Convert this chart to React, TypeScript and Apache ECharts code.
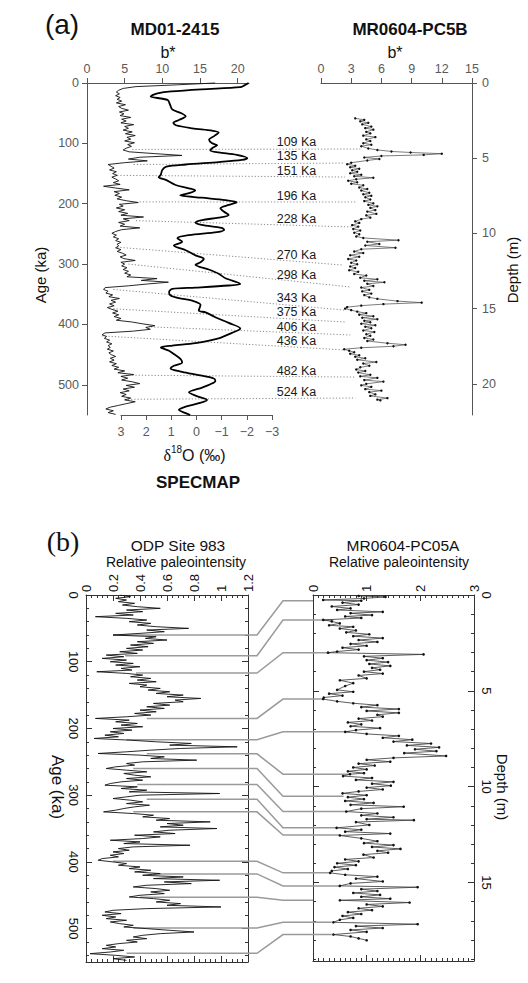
import React, { useEffect, useRef } from "react";
import * as echarts from "echarts";

const FONT = '"Liberation Sans", Arial, Helvetica, sans-serif';

// ---------- Panel (a) ----------
// SPECMAP stack: [age (ka), δ18O (‰)]
const specmap: number[][] = [
  [0, -2.07], [4, -1.9], [7, -1.74], [10.5, -0.2], [14, 1.0], [17, 1.55], [20, 1.75], [22.5, 1.82],
  [28, 1.15], [36, 1.05], [44, 0.96], [50, 0.6], [55, 0.43], [61, 0.68], [66, 0.92], [70, 0.82],
  [75, 0.17], [79, -0.62], [82, -0.88], [88, -0.7], [94, -0.5], [100, -0.62], [103, -0.82], [108, -0.62],
  [112, -0.55], [115, -0.88], [119, -1.6], [124.5, -2.02], [127.5, -1.8], [131, -0.88], [135, 0.43],
  [138.5, 1.2], [144, 1.36], [152, 1.42], [156, 1.5], [160.5, 1.22], [169, 0.83], [174.5, 0.3],
  [178, 0.05], [182.5, 0.3], [186, 0.65], [190, -0.2], [194, -1.15], [197.5, -1.6], [202, -1.28],
  [207.5, -0.95], [213, -1.08], [218.5, -1.28], [223, -0.88], [227, -0.22], [231, 0.04], [235, -0.2],
  [240, -1.0], [243, -1.1], [247, -0.82], [252, 0.3], [257, 0.76], [263, 0.57], [269, 0.9], [277, 0.43],
  [285.5, 0.04], [291, -0.29], [297, -0.16], [301, 0.04], [309, -0.49], [316, -0.88], [323.5, -1.15],
  [333, -1.74], [335.5, -1.28], [339, 0.04], [341, 0.96], [346.5, 1.09], [352, 1.03], [356.5, 0.7],
  [360.5, 0.17], [367.5, -0.16], [377, -0.09], [380, -0.36], [388, -0.75], [397.5, -1.28], [406.5, -1.74],
  [414, -1.41], [423, -0.88], [431, 0.04], [435, 0.96], [438, 1.42], [443.5, 1.09], [449, 0.9],
  [457.5, 0.63], [463, 0.57], [468.5, 0.9], [473, 1.03], [478.5, 0.57], [484, -0.09], [489.5, -0.69],
  [493.5, -0.75], [499, -0.55], [504.5, -0.22], [512.5, 0.3], [518, 0.04], [525, -0.42], [530.5, -0.09],
  [536, 0.43], [541.5, 0.7], [547, 0.43], [550, 0.25],
];

// MD01-2415 b*, one value every 3 ka from 0 ka
const mdAgeStep = 3;
const mdBstar: number[] = [
  17.0, 12.0, 6.5, 4.8, 4.2, 3.9, 4.3, 3.8, 4.4, 4.0, 4.6, 3.9, 5.1, 4.2, 4.6, 5.5, 4.3, 4.9, 4.4, 5.8,
  4.6, 5.2, 4.5, 6.2, 5.0, 5.5, 4.8, 6.0, 5.1, 6.4, 5.3, 5.8, 5.0, 6.3, 5.4, 5.9, 5.2, 4.8, 5.6, 9.0,
  12.6, 7.0, 5.5, 8.0, 5.0, 2.8, 3.2, 3.6, 3.0, 3.9, 3.4, 4.0, 3.3, 3.8, 4.2, 3.5, 4.4, 2.2, 3.8, 5.6,
  3.6, 4.3, 3.7, 4.6, 4.0, 5.2, 6.8, 4.3, 4.8, 3.9, 5.0, 4.2, 5.4, 4.5, 7.5, 4.8, 5.6, 4.2, 5.0, 4.4,
  7.0, 4.6, 3.8, 3.3, 3.9, 3.5, 4.2, 3.8, 4.5, 4.0, 4.2, 3.8, 4.5, 4.0, 4.7, 5.2, 4.4, 4.9, 6.4, 4.5,
  5.0, 4.6, 5.3, 4.8, 5.5, 5.0, 5.8, 5.3, 9.3, 7.2, 10.8, 8.0, 5.5, 2.4, 2.2, 2.8, 2.5, 3.4, 2.9, 4.3,
  3.2, 3.8, 3.0, 3.6, 2.7, 3.3, 4.1, 3.4, 4.2, 3.6, 4.5, 3.9, 6.0, 7.4, 9.0, 7.8, 8.4, 6.2, 2.4, 2.0,
  2.6, 2.3, 3.0, 2.6, 3.3, 2.8, 3.1, 2.7, 3.5, 2.9, 3.2, 3.8, 3.1, 3.6, 3.0, 3.9, 3.3, 4.2, 3.6, 5.0,
  4.1, 6.2, 4.5, 5.4, 4.6, 6.0, 7.0, 5.2, 6.3, 4.8, 5.6, 4.4, 5.2, 4.6, 5.8, 5.0, 6.4, 5.3, 4.2, 3.1,
  2.5, 3.5, 2.8, 3.8,
];

// MR0604-PC5B b*: [depth (m), b*]
const pc5b: number[][] = [
  [2.35, 3.4], [2.45, 4.3], [2.55, 3.9], [2.65, 4.7], [2.75, 4.1], [2.9, 5.0], [3.0, 4.4], [3.1, 5.2],
  [3.25, 4.5], [3.35, 4.9], [3.5, 4.2], [3.6, 5.4], [3.75, 4.5], [3.85, 4.9], [4.0, 4.2], [4.1, 5.0],
  [4.2, 4.0], [4.35, 4.7], [4.45, 5.6], [4.55, 7.0], [4.62, 8.9], [4.7, 12.0], [4.78, 10.2], [4.85, 6.0],
  [4.95, 4.3], [5.05, 5.8], [5.15, 4.6], [5.3, 3.0], [5.4, 2.6], [5.5, 3.4], [5.6, 2.9], [5.7, 3.8],
  [5.8, 3.1], [5.9, 3.6], [6.0, 2.9], [6.1, 4.0], [6.2, 3.3], [6.3, 5.2], [6.4, 3.5], [6.5, 2.7],
  [6.6, 3.6], [6.7, 3.0], [6.8, 4.2], [6.95, 3.8], [7.05, 4.6], [7.15, 4.0], [7.3, 4.8], [7.4, 4.2],
  [7.5, 5.0], [7.6, 4.4], [7.75, 4.9], [7.85, 4.3], [8.0, 5.2], [8.1, 4.7], [8.2, 5.6], [8.3, 4.9],
  [8.45, 5.4], [8.55, 4.6], [8.7, 5.5], [8.8, 4.5], [8.95, 4.9], [9.05, 4.0], [9.2, 3.4], [9.3, 3.8],
  [9.45, 3.1], [9.55, 3.7], [9.7, 3.2], [9.8, 3.9], [9.95, 3.3], [10.05, 3.8], [10.2, 3.5], [10.3, 4.2],
  [10.45, 7.7], [10.55, 4.6], [10.7, 5.8], [10.8, 4.4], [10.95, 7.4], [11.05, 4.0], [11.2, 3.3],
  [11.3, 4.2], [11.45, 2.9], [11.55, 3.8], [11.7, 2.7], [11.8, 3.5], [11.95, 3.0], [12.05, 3.6],
  [12.2, 2.9], [12.3, 3.4], [12.45, 2.8], [12.55, 3.7], [12.7, 3.3], [12.8, 4.5], [12.95, 3.9],
  [13.05, 5.6], [13.15, 4.3], [13.25, 6.3], [13.35, 4.6], [13.5, 5.2], [13.6, 4.0], [13.75, 4.8],
  [13.85, 4.1], [14.0, 5.0], [14.1, 4.3], [14.25, 4.8], [14.35, 5.6], [14.5, 7.6], [14.6, 10.0],
  [14.7, 6.2], [14.8, 4.0], [14.9, 2.6], [15.0, 2.4], [15.1, 3.0], [15.2, 3.6], [15.3, 4.5], [15.4, 3.8],
  [15.5, 5.2], [15.6, 4.1], [15.7, 5.6], [15.8, 4.3], [15.9, 4.9], [16.0, 4.0], [16.1, 5.4], [16.2, 4.4],
  [16.3, 5.0], [16.45, 4.2], [16.55, 5.3], [16.7, 4.5], [16.8, 4.9], [16.95, 4.3], [17.05, 5.2],
  [17.15, 4.6], [17.3, 6.6], [17.4, 8.4], [17.5, 7.2], [17.6, 4.0], [17.7, 2.3], [17.8, 2.8], [17.9, 3.3],
  [18.0, 2.9], [18.1, 3.8], [18.2, 3.4], [18.3, 4.4], [18.4, 3.6], [18.55, 5.5], [18.65, 4.2], [18.8, 4.8],
  [18.9, 3.9], [19.05, 3.5], [19.15, 4.4], [19.25, 3.7], [19.4, 4.9], [19.5, 3.9], [19.6, 5.6],
  [19.75, 4.3], [19.85, 6.2], [20.0, 4.5], [20.1, 4.0], [20.2, 5.0], [20.35, 4.4], [20.45, 6.0],
  [20.55, 4.8], [20.7, 5.4], [20.8, 4.9], [20.95, 6.6], [21.05, 5.6], [21.1, 5.9],
];

// tie points of panel (a)
const tieLabelsA = [109, 135, 151, 196, 228, 270, 298, 343, 375, 406, 436, 482, 524];
const tieLeftAgeA = [110, 135, 153, 197, 228, 272, 300, 342, 374, 404, 419, 484, 524];
const tieLeftBA = [6.0, 6.2, 4.0, 7.0, 6.5, 4.0, 5.5, 3.5, 3.5, 8.5, 2.0, 6.0, 5.0];
const tieDepthA = [4.39, 5.32, 6.25, 7.91, 9.57, 12.1, 13.56, 15.1, 15.89, 16.75, 17.75, 19.55, 20.94];
const tieRightBA = [3.9, 2.4, 2.4, 3.4, 3.1, 2.1, 2.9, 2.4, 2.4, 2.9, 2.4, 3.4, 3.4];

const ageTicksA = [0, 100, 200, 300, 400, 500];
const mdTicks = [0, 5, 10, 15, 20];
const depthTicksA = [0, 5, 10, 15, 20];

// ---------- Panel (b) ----------
// ODP Site 983 relative paleointensity, one value every 2.5 ka from 0 ka
const odpAgeStep = 2.5;
const odpPI: number[] = [
  0.25, 0.33, 0.22, 0.30, 0.24, 0.36, 0.27, 0.38, 0.55, 0.30, 0.42, 0.22, 0.35, 0.07, 0.30, 0.45, 0.32, 0.48, 0.38, 0.52,
  0.76, 0.45, 0.58, 0.40, 0.20, 0.52, 0.44, 0.60, 0.38, 0.50, 0.33, 0.46, 0.30, 0.42, 0.25, 0.38, 0.15, 0.28, 0.12, 0.30,
  0.18, 0.35, 0.22, 0.40, 0.26, 0.34, 0.08, 0.30, 0.42, 0.33, 0.48, 0.38, 0.52, 0.32, 0.45, 0.40, 0.55, 0.46, 0.62, 0.52,
  0.72, 0.60, 0.85, 0.66, 0.72, 0.50, 0.62, 0.45, 0.58, 0.40, 0.52, 0.36, 0.48, 0.30, 0.07, 0.32, 0.22, 0.38, 0.26, 0.42,
  0.20, 0.34, 0.18, 0.28, 0.14, 0.24, 0.06, 0.32, 0.52, 0.78, 0.62, 1.12, 0.70, 0.48, 0.30, 0.09, 0.40, 0.58, 0.48, 0.82,
  0.42, 0.30, 0.36, 0.22, 0.15, 0.30, 0.45, 0.28, 0.36, 0.48, 0.30, 0.42, 0.26, 0.18, 0.14, 0.38, 0.26, 0.45, 0.32, 0.99,
  0.40, 0.30, 0.20, 0.33, 0.42, 0.30, 0.47, 0.36, 0.28, 0.22, 0.13, 0.35, 0.50, 0.42, 0.62, 0.52, 0.92, 0.60, 0.72, 0.55,
  0.97, 0.62, 0.50, 0.66, 0.36, 0.55, 0.42, 0.18, 0.40, 0.28, 0.77, 0.35, 0.24, 0.32, 0.20, 0.28, 0.18, 0.24, 0.12, 0.09,
  0.20, 0.30, 0.24, 0.40, 0.32, 0.48, 0.36, 0.55, 0.42, 0.72, 0.50, 0.99, 0.58, 0.78, 0.45, 0.35, 0.52, 0.62, 0.48, 0.58,
  0.40, 0.32, 0.50, 0.62, 0.52, 0.70, 0.60, 1.00, 0.45, 0.20, 0.14, 0.26, 0.12, 0.22, 0.15, 0.30, 0.18, 0.25, 0.35, 0.28,
  0.45, 0.62, 0.80, 0.55, 0.42, 0.35, 0.45, 0.30, 0.38, 0.24, 0.15, 0.22, 0.12, 0.28, 0.18, 0.03, 0.22, 0.36, 0.20, 0.30,
];

// MR0604-PC05A relative paleointensity: [depth (m), RPI]
const pc05a: number[][] = [
  [0.05, 0.85], [0.1, 1.35], [0.18, 0.95], [0.26, 0.19], [0.3, 0.9], [0.4, 0.55], [0.5, 0.85], [0.6, 0.35],
  [0.7, 0.7], [0.78, 0.45], [0.88, 1.3], [0.95, 0.7], [1.05, 1.1], [1.12, 0.6], [1.2, 0.9], [1.3, 0.19],
  [1.38, 0.35], [1.48, 0.5], [1.58, 0.3], [1.66, 0.75], [1.75, 0.5], [1.85, 0.8], [1.95, 0.62], [2.05, 1.05],
  [2.15, 0.75], [2.25, 1.3], [2.35, 0.85], [2.45, 1.2], [2.55, 0.7], [2.65, 1.0], [2.75, 0.55], [2.85, 0.85],
  [2.95, 0.45], [3.01, 0.28], [3.1, 2.06], [3.2, 0.95], [3.3, 1.3], [3.4, 1.0], [3.5, 1.4], [3.6, 1.05],
  [3.7, 1.44], [3.8, 1.1], [3.9, 1.25], [4.0, 0.95], [4.1, 1.3], [4.2, 0.85], [4.35, 1.0], [4.45, 0.5],
  [4.6, 0.75], [4.75, 0.6], [4.95, 0.45], [5.05, 0.75], [5.15, 0.3], [5.25, 0.55], [5.35, 0.2], [5.43, 0.19],
  [5.55, 0.45], [5.65, 0.75], [5.75, 1.2], [5.85, 0.9], [5.95, 1.6], [6.05, 1.0], [6.15, 1.6], [6.25, 1.2],
  [6.35, 1.3], [6.45, 0.85], [6.55, 1.1], [6.65, 0.65], [6.75, 0.9], [6.85, 0.7], [6.95, 1.25], [7.05, 0.8],
  [7.14, 0.6], [7.25, 1.0], [7.35, 1.6], [7.45, 1.3], [7.55, 1.85], [7.65, 1.5], [7.75, 2.2], [7.85, 1.75],
  [7.95, 2.35], [8.05, 1.9], [8.15, 2.3], [8.25, 1.7], [8.4, 2.48], [8.5, 1.5], [8.6, 1.0], [8.7, 1.44],
  [8.8, 0.85], [8.9, 1.15], [9.0, 0.75], [9.1, 1.0], [9.2, 0.65], [9.3, 0.95], [9.35, 0.69], [9.45, 0.56],
  [9.55, 1.1], [9.65, 0.8], [9.75, 1.5], [9.85, 1.1], [9.95, 1.45], [10.05, 1.0], [10.15, 1.3], [10.25, 0.85],
  [10.35, 0.55], [10.45, 1.0], [10.55, 0.65], [10.65, 0.95], [10.75, 0.6], [10.85, 1.13], [10.95, 0.7],
  [11.05, 1.69], [11.15, 0.9], [11.3, 0.62], [11.4, 1.2], [11.5, 0.9], [11.6, 1.5], [11.7, 1.0], [11.75, 1.88],
  [11.85, 0.8], [12.0, 1.05], [12.15, 0.44], [12.25, 0.9], [12.35, 0.6], [12.45, 1.44], [12.55, 0.5],
  [12.7, 0.9], [12.85, 1.2], [12.95, 0.95], [13.05, 1.5], [13.15, 1.1], [13.25, 1.63], [13.35, 1.2],
  [13.45, 1.4], [13.55, 0.94], [13.7, 1.13], [13.8, 0.6], [13.9, 0.85], [14.0, 0.45], [14.1, 0.8], [14.2, 0.4],
  [14.3, 0.65], [14.4, 0.35], [14.5, 0.32], [14.6, 0.6], [14.7, 1.2], [14.8, 0.8], [14.95, 1.3], [15.05, 0.7],
  [15.18, 0.5], [15.25, 1.95], [15.35, 0.9], [15.45, 1.2], [15.55, 0.75], [15.65, 1.25], [15.75, 0.9],
  [15.85, 1.44], [15.93, 0.5], [16.05, 1.8], [16.15, 1.0], [16.25, 1.3], [16.35, 0.85], [16.45, 1.1],
  [16.55, 0.65], [16.65, 0.9], [16.75, 0.55], [16.85, 0.75], [16.95, 0.5], [17.08, 0.38], [17.18, 1.95],
  [17.28, 0.8], [17.38, 1.3], [17.48, 0.7], [17.58, 1.0], [17.72, 0.38], [17.82, 0.7], [17.92, 0.85], [18.02, 1.0],
];

// tie points of panel (b)
const tieAgeB = [60, 91, 117, 185, 217, 238, 260, 284, 306, 325, 399, 418, 453, 499, 537];
const tieLeftPIB = [0.2, 0.29, 0.37, 0.45, 0.3, 0.45, 0.35, 0.38, 0.45, 0.35, 0.2, 0.5, 0.4, 0.35, 0.3];
const tieDepthB = [0.3, 1.31, 3.01, 5.43, 7.14, 9.35, 10.5, 11.3, 12.15, 12.53, 14.5, 15.18, 15.93, 17.08, 17.72];
const tieRightPIB = [0, 0.38, 0.32, 0.19, 0.69, 0.69, 0.57, 0.63, 0.44, 0.5, 0.32, 0.5, 0, 0.35, 0.35];

// ---------- helpers ----------
const GREY_A = "#555";
const isMult = (v: number, u: number) => Math.abs(v / u - Math.round(v / u)) < 1e-6;
const fmtNum = (v: number) => {
  const r = Math.round(v * 100) / 100;
  return r < 0 ? "\u2212" + Math.abs(r) : String(r);
};

function axA(extra: any) {
  return {
    type: "value",
    splitLine: { show: false },
    axisLine: { show: true, onZero: false, lineStyle: { color: GREY_A, width: 1 } },
    axisTick: { show: true, inside: false, length: 5, lineStyle: { color: GREY_A, width: 1 }, ...(extra.tick || {}) },
    axisLabel: {
      show: true, color: "#5a5a5a", fontFamily: FONT, fontSize: 12.5, margin: 8,
      formatter: (v: number) => fmtNum(v), ...(extra.label || {}),
    },
    ...extra.base,
  };
}

function boxAxis(base: any, major: boolean, showLabel: boolean, unit: number, margin: number) {
  return {
    type: "value",
    splitLine: { show: false },
    axisLine: { show: major, onZero: false, lineStyle: { color: "#333", width: 1 } },
    axisTick: { show: true, inside: true, length: major ? 6 : 3, lineStyle: { color: "#333", width: 1 } },
    axisLabel: {
      show: showLabel, rotate: -90, margin, color: "#111", fontFamily: FONT, fontSize: 13,
      formatter: (v: number) => (isMult(v, unit) ? fmtNum(v) : ""),
    },
    ...base,
  };
}

export default function App() {
  const ref = useRef<HTMLDivElement>(null);

  useEffect(() => {
    document.body.style.margin = "0";
    if (!ref.current) return;
    const chart = echarts.init(ref.current, undefined, { renderer: "svg" });

    const mdData = mdBstar.map((b, i) => [b, i * mdAgeStep]);
    const specData = specmap.map(([a, d]) => [d, a]);
    const pc5bData = pc5b.map(([d, b]) => [b, d]);
    const odpData = odpPI.map((p, i) => [p, i * odpAgeStep]);
    const pc05aData = pc05a.map(([d, p]) => [p, d]);

    const option: any = {
      animation: false,
      textStyle: { fontFamily: FONT },
      grid: [
        { left: 87, top: 83, width: 162, height: 332 },
        { left: 121, top: 83, width: 151, height: 332 },
        { left: 321, top: 83, width: 151, height: 332 },
        { left: 86, top: 595, width: 162, height: 367 },
        { left: 313, top: 595, width: 161, height: 366 },
      ],
      xAxis: [
        axA({ base: { gridIndex: 0, position: "top", min: 0, max: 21.5 }, tick: { customValues: mdTicks }, label: { customValues: mdTicks } }),
        axA({ base: { gridIndex: 1, position: "bottom", min: -3, max: 3, interval: 1, inverse: true }, label: { margin: 10 } }),
        axA({ base: { gridIndex: 2, position: "top", min: 0, max: 15, interval: 3 } }),
        boxAxis({ gridIndex: 3, position: "top", min: 0, max: 1.2, interval: 0.2 }, true, true, 0.2, 3),
        boxAxis({ gridIndex: 3, position: "top", min: 0, max: 1.2, interval: 0.04 }, false, false, 0.2, 3),
        boxAxis({ gridIndex: 3, position: "bottom", min: 0, max: 1.2, interval: 0.2 }, true, false, 0.2, 3),
        boxAxis({ gridIndex: 3, position: "bottom", min: 0, max: 1.2, interval: 0.04 }, false, false, 0.2, 3),
        boxAxis({ gridIndex: 4, position: "top", min: 0, max: 3, interval: 1 }, true, true, 1, 3),
        boxAxis({ gridIndex: 4, position: "top", min: 0, max: 3, interval: 0.1 }, false, false, 1, 3),
        boxAxis({ gridIndex: 4, position: "bottom", min: 0, max: 3, interval: 1 }, true, false, 1, 3),
        boxAxis({ gridIndex: 4, position: "bottom", min: 0, max: 3, interval: 0.1 }, false, false, 1, 3),
      ],
      yAxis: [
        axA({ base: { gridIndex: 0, position: "left", min: 0, max: 550, inverse: true }, tick: { customValues: ageTicksA }, label: { customValues: ageTicksA } }),
        { type: "value", gridIndex: 1, min: 0, max: 550, inverse: true, show: false },
        axA({ base: { gridIndex: 2, position: "right", min: 0, max: 22.07, inverse: true }, tick: { customValues: depthTicksA }, label: { customValues: depthTicksA, margin: 10 } }),
        boxAxis({ gridIndex: 3, position: "left", min: 0, max: 550, interval: 100, inverse: true }, true, true, 100, 6),
        boxAxis({ gridIndex: 3, position: "left", min: 0, max: 550, interval: 20, inverse: true }, false, false, 100, 6),
        boxAxis({ gridIndex: 3, position: "right", min: 0, max: 550, interval: 100, inverse: true }, true, false, 100, 6),
        boxAxis({ gridIndex: 3, position: "right", min: 0, max: 550, interval: 20, inverse: true }, false, false, 100, 6),
        boxAxis({ gridIndex: 4, position: "left", min: 0, max: 19.1, interval: 5, inverse: true }, true, false, 5, 6),
        boxAxis({ gridIndex: 4, position: "left", min: 0, max: 19.1, interval: 1, inverse: true }, false, false, 5, 6),
        boxAxis({ gridIndex: 4, position: "right", min: 0, max: 19.1, interval: 5, inverse: true }, true, true, 5, 6),
        boxAxis({ gridIndex: 4, position: "right", min: 0, max: 19.1, interval: 1, inverse: true }, false, false, 5, 6),
      ],
      series: [
        {
          name: "MD01-2415 b*", type: "line", xAxisIndex: 0, yAxisIndex: 0, data: mdData,
          showSymbol: false, clip: false, z: 3, lineStyle: { color: "#111", width: 0.9 },
        },
        {
          name: "SPECMAP", type: "line", xAxisIndex: 1, yAxisIndex: 1, data: specData,
          showSymbol: false, smooth: 0.3, z: 4, lineStyle: { color: "#000", width: 1.8 },
        },
        {
          name: "MR0604-PC5B b*", type: "line", xAxisIndex: 2, yAxisIndex: 2, data: pc5bData,
          symbol: "circle", symbolSize: 2.4, showSymbol: true, z: 3,
          itemStyle: { color: "#111" }, lineStyle: { color: "#444", width: 0.7 },
        },
        {
          name: "ODP Site 983", type: "line", xAxisIndex: 3, yAxisIndex: 3, data: odpData,
          showSymbol: false, z: 3, lineStyle: { color: "#111", width: 0.9 },
        },
        {
          name: "MR0604-PC05A", type: "line", xAxisIndex: 7, yAxisIndex: 7, data: pc05aData,
          symbol: "circle", symbolSize: 2.6, showSymbol: true, z: 3,
          itemStyle: { color: "#111" }, lineStyle: { color: "#333", width: 0.8 },
        },
      ],
    };

    chart.setOption(option);

    const px = (xi: number, yi: number, x: number, y: number): number[] =>
      chart.convertToPixel({ xAxisIndex: xi, yAxisIndex: yi } as any, [x, y]) as number[];

    const txt = (text: string, x: number, y: number, size: number, extra: any = {}) => ({
      type: "text", x, y, z: 20, silent: true, rotation: extra.rotation || 0,
      style: {
        text, fill: extra.fill || "#111", fontSize: size, fontFamily: extra.family || FONT,
        fontWeight: extra.weight || "normal", align: extra.align || "center", verticalAlign: extra.va || "middle",
        textAlign: extra.align || "center", textVerticalAlign: extra.va || "middle",
      },
    });

    const graphics: any[] = [];

    // Panel (a) dotted tie lines and labels
    const gapLeft = px(1, 1, -3, 0)[0];
    const gapRight = px(2, 2, 0, 0)[0];
    const labelX = (gapLeft + gapRight) / 2;
    const labelYs: number[] = [];
    tieLabelsA.forEach((lab, i) => {
      const p1 = px(0, 0, tieLeftBA[i], tieLeftAgeA[i]);
      const p2 = px(2, 2, tieRightBA[i], tieDepthA[i]);
      graphics.push({
        type: "polyline", z: 1, silent: true,
        shape: { points: [p1, p2] },
        style: { stroke: "#8a8a8a", lineWidth: 1, lineDash: [1.2, 2], fill: null },
      });
      const t = (labelX - p1[0]) / (p2[0] - p1[0]);
      labelYs.push(p1[1] + t * (p2[1] - p1[1]) - 6);
    });
    // keep labels from colliding: push upward where too close
    for (let i = labelYs.length - 2; i >= 0; i--) {
      if (labelYs[i] > labelYs[i + 1] - 14.5) labelYs[i] = labelYs[i + 1] - 14.5;
    }
    tieLabelsA.forEach((lab, i) => {
      graphics.push(txt(lab + " Ka", labelX, labelYs[i], 12.5, { fill: "#1a1a1a" }));
    });

    // Panel (b) grey tie lines
    tieAgeB.forEach((age, i) => {
      const p1 = px(3, 3, tieLeftPIB[i], age);
      const edgeL = px(3, 3, 1.2, age);
      const p4 = px(7, 7, tieRightPIB[i], tieDepthB[i]);
      const edgeR = px(7, 7, 0, tieDepthB[i]);
      graphics.push({
        type: "polyline", z: 1, silent: true,
        shape: { points: [p1, [edgeL[0] + 9, p1[1]], [edgeR[0] - 30, p4[1]], p4] },
        style: { stroke: "#9a9a9a", lineWidth: 1.5, fill: null },
      });
    });

    // Titles and axis names — panel (a)
    graphics.push(txt("(a)", 62, 24, 28, { family: '"Liberation Sans", Arial, sans-serif' }));
    graphics.push(txt("MD01-2415", 175, 29, 17, { weight: "bold" }));
    graphics.push(txt("b*", 168, 52, 16));
    graphics.push(txt("MR0604-PC5B", 410, 29, 17, { weight: "bold" }));
    graphics.push(txt("b*", 395, 52, 16));
    graphics.push(txt("Age (ka)", 40, 275, 15, { rotation: Math.PI / 2 }));
    graphics.push(txt("Depth (m)", 512, 270, 15, { rotation: Math.PI / 2 }));
    graphics.push(txt("δ", 171, 455, 16, { family: '"Liberation Serif", "Times New Roman", serif', align: "right" }));
    graphics.push(txt("18", 171, 449, 10, { align: "left" }));
    graphics.push(txt("O (‰)", 182, 455, 16, { align: "left" }));
    graphics.push(txt("SPECMAP", 198, 482, 17, { weight: "bold" }));

    // panel (b)
    graphics.push(txt("(b)", 63, 541, 28, { family: '"Liberation Serif", "Times New Roman", serif' }));
    graphics.push(txt("ODP Site 983", 178, 545, 15.5));
    graphics.push(txt("Relative paleointensity", 176, 562, 14));
    graphics.push(txt("MR0604-PC05A", 403, 545, 15.5));
    graphics.push(txt("Relative paleointensity", 399, 562, 14));
    graphics.push(txt("Age (ka)", 57, 787, 17, { rotation: -Math.PI / 2 }));
    graphics.push(txt("Depth (m)", 502, 787, 15, { rotation: -Math.PI / 2 }));

    chart.setOption({ graphic: graphics });

    return () => chart.dispose();
  }, []);

  return <div ref={ref} style={{ width: 528, height: 983, background: "#fff" }} />;
}
